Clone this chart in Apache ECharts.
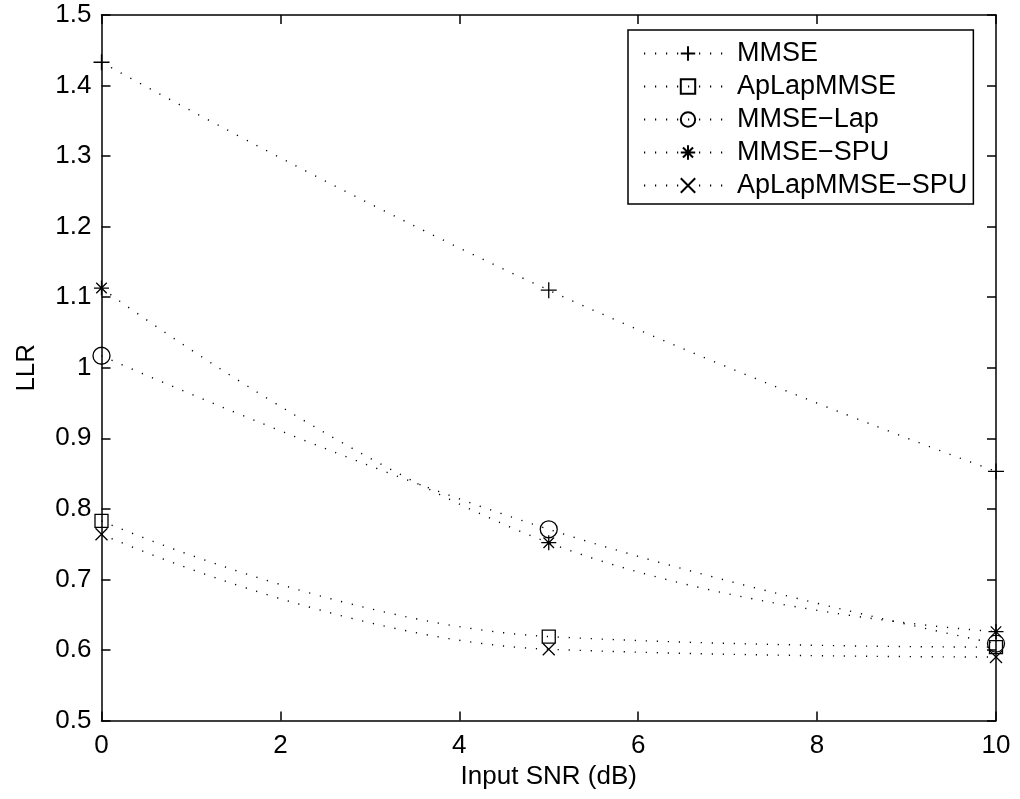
<!DOCTYPE html>
<html>
<head>
<meta charset="utf-8">
<script src="https://cdn.jsdelivr.net/npm/echarts@6/dist/echarts.min.js"></script>
<style>
  html, body { margin: 0; padding: 0; background: #fff; }
  #chart { width: 1020px; height: 799px; }
</style>
</head>
<body>
<div id="chart"></div>
<script>
// Input SNR levels (dB) at which LLR was measured
const snr = [0, 5, 10];

// LLR per enhancement method
const mmse         = [1.433, 1.110, 0.853];
const apLapMmse    = [0.783, 0.619, 0.604];
const mmseLap      = [1.017, 0.771, 0.609];
const mmseSpu      = [1.113, 0.752, 0.626];
const apLapMmseSpu = [0.764, 0.601, 0.590];

const seriesNames = ['MMSE', 'ApLapMMSE', 'MMSE\u2212Lap', 'MMSE\u2212SPU', 'ApLapMMSE\u2212SPU'];

const xTicks = { min: 0, max: 10, interval: 2 };
const yTicks = { min: 0.5, max: 1.5, interval: 0.1 };

const FONT = 'Liberation Sans, Arial, Helvetica, sans-serif';
const FS = 26;

// unfilled marker outlines
const markers = [
  { symbol: 'path://M0,5L10,5M5,0L5,10', size: 16 },                                 // plus
  { symbol: 'rect', size: 13 },                                                      // square
  { symbol: 'circle', size: 17 },                                                    // circle
  { symbol: 'path://M5,0L5,10M0,5L10,5M1.5,1.5L8.5,8.5M8.5,1.5L1.5,8.5', size: 15 }, // asterisk
  { symbol: 'path://M0,0L10,10M10,0L0,10', size: 12 }                                // cross
];

const values = [mmse, apLapMmse, mmseLap, mmseSpu, apLapMmseSpu];

const series = values.map((vals, i) => ({
  name: seriesNames[i],
  type: 'line',
  xAxisIndex: 0,
  yAxisIndex: 0,
  data: snr.map((x, k) => [x, vals[k]]),
  smooth: 0.45,
  clip: false,
  symbol: markers[i].symbol,
  symbolSize: markers[i].size,
  showAllSymbol: true,
  lineStyle: { color: '#000', width: 1.4, type: [1.2, 9.8], cap: 'butt' },
  itemStyle: { color: 'rgba(0,0,0,0)', borderColor: '#000', borderWidth: 1.3 },
  emphasis: { disabled: true },
  z: 3
}));

const axisLine = { show: true, onZero: false, lineStyle: { color: '#000', width: 1.5 } };
const axisTick = { show: true, inside: true, length: 9, lineStyle: { color: '#000', width: 1.5 } };

const option = {
  animation: false,
  backgroundColor: '#fff',
  grid: { left: 101.5, right: 24, top: 15, bottom: 78.5, containLabel: false },
  xAxis: [
    {
      type: 'value', position: 'bottom', ...xTicks,
      name: 'Input SNR (dB)', nameLocation: 'middle', nameGap: 40,
      nameTextStyle: { fontFamily: FONT, fontSize: FS, color: '#000' },
      axisLine, axisTick,
      axisLabel: { fontFamily: FONT, fontSize: FS, color: '#000', margin: 12 },
      splitLine: { show: false }
    },
    {
      type: 'value', position: 'top', ...xTicks,
      axisLine, axisTick,
      axisLabel: { show: false },
      splitLine: { show: false }
    }
  ],
  yAxis: [
    {
      type: 'value', position: 'left', ...yTicks,
      name: 'LLR', nameLocation: 'middle', nameGap: 62,
      nameTextStyle: { fontFamily: FONT, fontSize: FS, color: '#000' },
      axisLine, axisTick,
      axisLabel: { fontFamily: FONT, fontSize: FS, color: '#000', margin: 10 },
      splitLine: { show: false }
    },
    {
      type: 'value', position: 'right', ...yTicks,
      axisLine, axisTick,
      axisLabel: { show: false },
      splitLine: { show: false }
    }
  ],
  legend: {
    data: seriesNames,
    orient: 'vertical',
    left: 628,
    top: 30,
    padding: [10, 6, 5, 15],
    itemWidth: 88,
    itemHeight: 18,
    itemGap: 6,
    selectedMode: false,
    backgroundColor: '#fff',
    borderColor: '#000',
    borderWidth: 1.5,
    borderRadius: 0,
    textStyle: { fontFamily: FONT, fontSize: 27, color: '#000', lineHeight: 25 }
  },
  series
};

const chart = echarts.init(document.getElementById('chart'), null, { renderer: 'canvas' });
chart.setOption(option);
</script>
</body>
</html>
